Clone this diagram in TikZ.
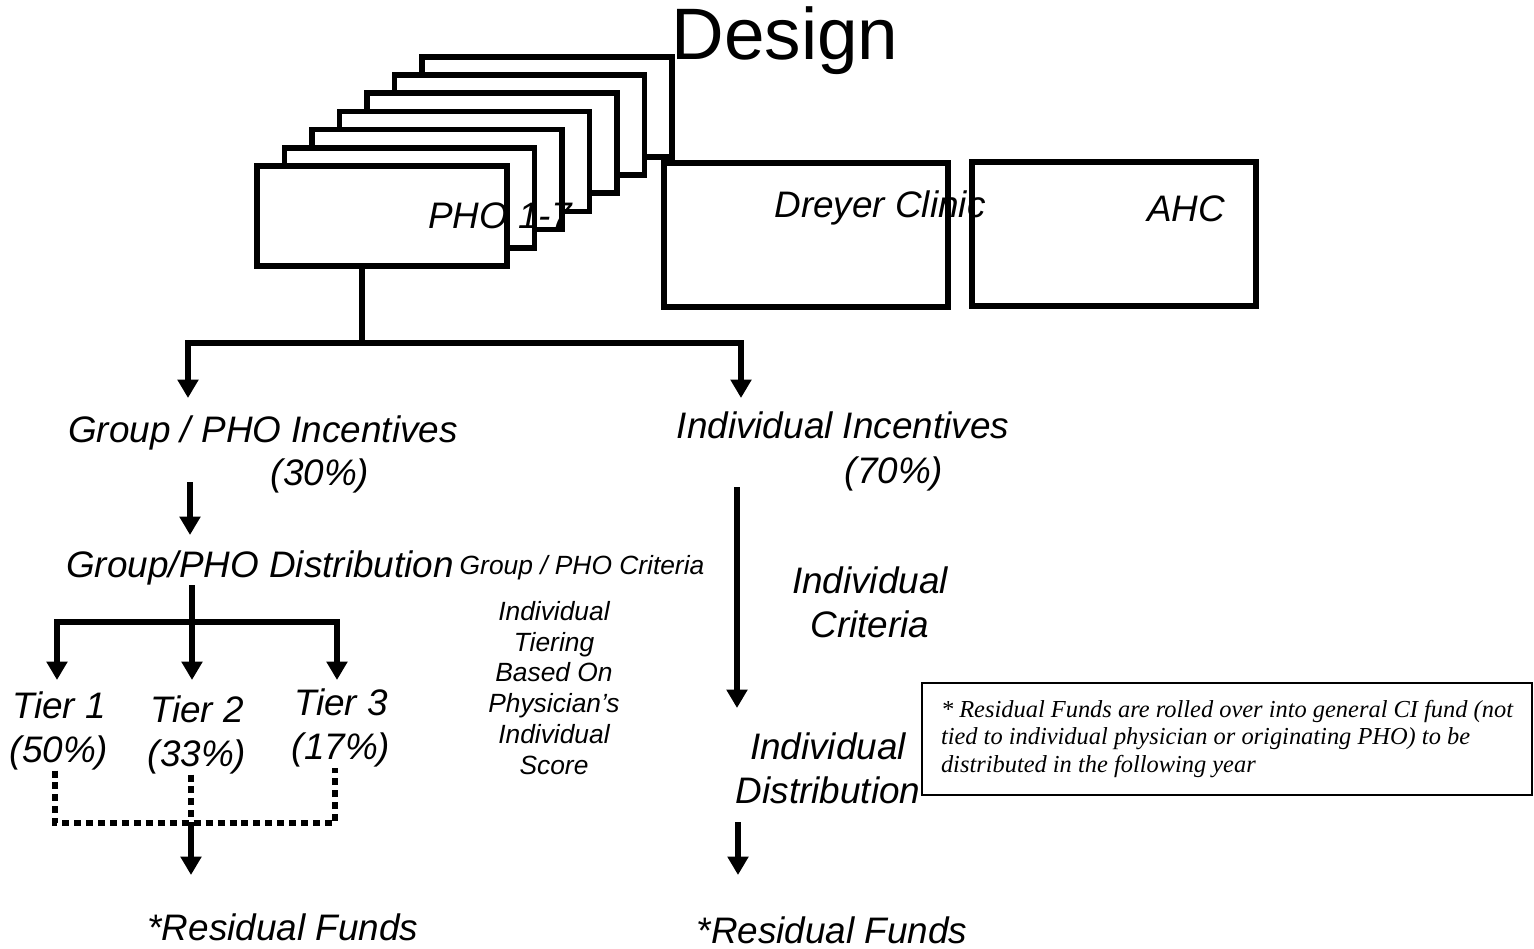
\documentclass[tikz,border=0pt]{standalone}
\usepackage{fontspec}
\setmainfont{Liberation Sans}
\newfontfamily\notefont{Liberation Serif}
\usetikzlibrary{arrows.meta}
\tikzstyle{phobox} = [rectangle, draw=black, line width=3.1pt, fill=white, minimum width=5cm, minimum height=2cm, inner sep=0pt]
\tikzstyle{orgbox} = [rectangle, draw=black, line width=3.1pt, minimum width=5.68cm, minimum height=2.88cm, inner sep=0pt]
\tikzstyle{big} = [font=\fontsize{21}{25}\selectfont\itshape, align=center, inner sep=0pt]
\tikzstyle{minor} = [font=\fontsize{15}{17.6}\selectfont\itshape, align=center, inner sep=0pt]
\tikzstyle{link} = [line width=3.1pt]
\tikzstyle{dotlink} = [line width=3pt, dash pattern=on 4pt off 2.8pt]
\tikzstyle{arrow} = [line width=3.1pt, -{Triangle[width=11.5pt,length=10.5pt]}]
\begin{document}
\begin{tikzpicture}[x=0.02cm, y=-0.02cm]
        \useasboundingbox (0,0) rectangle (1534,948);
        \node (design) [anchor=base, inner sep=0pt, font=\fontsize{41.5}{48}\selectfont] at (785,59) {Design};

        % PHO boxes, back to front
        \foreach \i in {6,...,0}
            \node (pho\i) [phobox] at (382+27.5*\i, 216-18.2*\i) {};
        \node (pholabel) [big, anchor=base] at (500,228) {PHO 1-7};

        \node (dreyerlabel) [big, anchor=base] at (880,217) {Dreyer Clinic};
        \node (ahclabel) [big, anchor=base] at (1186,221) {AHC};
        \node (dreyer) [orgbox] at (806,235) {};
        \node (ahc) [orgbox] at (1114,234) {};

        \node (grpinc) [big, anchor=base] at (263,442) {Group / PHO Incentives};
        \node (grppct) [big, anchor=base] at (320,485) {(30\%)};
        \node (indinc) [big, anchor=base] at (843,438) {Individual Incentives};
        \node (indpct) [big, anchor=base] at (894,483) {(70\%)};
        \node (grpdist) [big, anchor=base] at (260,577) {Group/PHO Distribution};
        \node (grpcrit) [minor, anchor=base] at (582,574) {Group / PHO Criteria};
        \node (tiering) [minor] at (554,688) {Individual\\ Tiering\\ Based On\\ Physician's\\ Individual\\ Score};
        \node (indcrit) [big] at (870,602) {Individual\\ Criteria};
        \node (inddist) [big] at (828,768) {Individual\\ Distribution};
        \node (tierA) [big] at (59,731) {Tier 1\\ (50\%)};
        \node (tierB) [big] at (197,735) {Tier 2\\ (33\%)};
        \node (tierC) [big] at (341,728) {Tier 3\\ (17\%)};
        \node (resL) [big, anchor=base] at (283,940) {*Residual Funds};
        \node (resR) [big, anchor=base] at (832,943) {*Residual Funds};
        \node (note) [draw=black, line width=1.2pt, minimum width=12.2cm, minimum height=2.24cm, inner sep=0pt, align=left, font=\notefont\fontsize{13.9}{15.5}\selectfont\itshape] at (1227,739)
        {* Residual Funds are rolled over into general CI fund (not\\ tied to individual physician or originating PHO) to be\\ distributed in the following year};

        \coordinate (phosplit) at (362,343);
        \coordinate (grptip) at (188,398);
        \coordinate (indtip) at (741,398);
        \coordinate (grpstart) at (190,482);
        \coordinate (grpend) at (190,535);
        \coordinate (distsplit) at (192,622);
        \coordinate (tipA) at (57,680);
        \coordinate (tipB) at (192,680);
        \coordinate (tipC) at (337,680);
        \coordinate (dotL) at (55,823);
        \coordinate (dotM) at (191,823);
        \coordinate (dotR) at (335,823);
        \coordinate (resLtip) at (191,875);
        \coordinate (indstart) at (737,487);
        \coordinate (indend) at (737,708);
        \coordinate (inddstart) at (738,822);
        \coordinate (inddend) at (738,875);

        \draw [link] (phosplit |- pho0.south) -- (phosplit);
        \draw [arrow] (phosplit) -| (grptip);
        \draw [arrow] (phosplit) -| (indtip);
        \draw [arrow] (grpstart) -- (grpend);
        \draw [link] (grpdist.south -| distsplit) -- (distsplit);
        \draw [arrow] (distsplit) -| (tipA);
        \draw [arrow] (distsplit) -- (tipB);
        \draw [arrow] (distsplit) -| (tipC);
        \draw [dotlink] (tierA.south -| dotL) -- (dotL) -- (dotR) -- (tierC.south -| dotR);
        \draw [dotlink] (tierB.south -| dotM) -- (dotM);
        \draw [arrow] (dotM) -- (resLtip);
        \draw [arrow] (indstart) -- (indend);
        \draw [arrow] (inddstart) -- (inddend);
\end{tikzpicture}
\end{document}
